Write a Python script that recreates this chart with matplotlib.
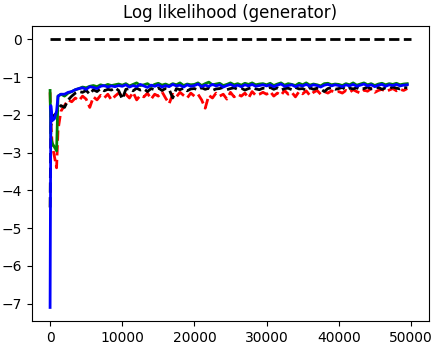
import numpy as np
import matplotlib
matplotlib.use("Agg")
import matplotlib.pyplot as plt

# iteration grid: fine at the start, then every 500 steps
iters = [0, 100, 300, 600, 900, 1100, 1500] + list(range(2000, 50000, 500))

blue = [-7.1, -1.75, -2.15, -2.1, -1.9, -1.5, -1.45,
        -1.45, -1.4, -1.38, -1.33, -1.3, -1.28, -1.32, -1.25, -1.27, -1.3, -1.24, -1.22, -1.26, -1.23, -1.25, -1.22,
        -1.24, -1.2, -1.26, -1.22, -1.25, -1.19, -1.23, -1.27, -1.21, -1.24, -1.2, -1.26, -1.22, -1.25, -1.19, -1.23, -1.21, -1.26, -1.2, -1.24,
        -1.22, -1.18, -1.25, -1.21, -1.24, -1.19, -1.23, -1.2, -1.26, -1.22, -1.19, -1.24, -1.21, -1.25, -1.2, -1.23, -1.19, -1.24, -1.22, -1.2,
        -1.23, -1.2, -1.25, -1.21, -1.18, -1.24, -1.22, -1.2, -1.25, -1.21, -1.23, -1.19, -1.24, -1.2, -1.22, -1.26, -1.21, -1.19, -1.23, -1.2,
        -1.22, -1.25, -1.2, -1.23, -1.19, -1.24, -1.21, -1.18, -1.23, -1.2, -1.25, -1.21, -1.19, -1.24, -1.2, -1.22, -1.19, -1.23, -1.21, -1.2]

green = [-1.35, -2.6, -2.75, -2.85, -2.95, -1.5, -1.45,
         -1.5, -1.42, -1.38, -1.33, -1.3, -1.26, -1.28, -1.24, -1.22, -1.25, -1.2, -1.23, -1.19, -1.22, -1.2, -1.18,
         -1.21, -1.17, -1.23, -1.19, -1.15, -1.22, -1.2, -1.17, -1.24, -1.19, -1.16, -1.21, -1.18, -1.22, -1.17, -1.2, -1.15, -1.22, -1.18, -1.2,
         -1.19, -1.15, -1.22, -1.17, -1.13, -1.2, -1.18, -1.16, -1.22, -1.19, -1.15, -1.2, -1.17, -1.21, -1.16, -1.19, -1.15, -1.2, -1.18, -1.17,
         -1.2, -1.16, -1.22, -1.18, -1.15, -1.21, -1.17, -1.19, -1.22, -1.16, -1.2, -1.15, -1.21, -1.18, -1.2, -1.23, -1.17, -1.16, -1.2, -1.18,
         -1.19, -1.22, -1.17, -1.2, -1.15, -1.21, -1.18, -1.15, -1.2, -1.17, -1.22, -1.18, -1.16, -1.2, -1.17, -1.19, -1.16, -1.2, -1.18, -1.17]

black = [-4.45, -2.3, -2.1, -2.0, -1.95, -1.85, -1.75,
         -1.8, -1.6, -1.5, -1.42, -1.38, -1.4, -1.35, -1.45, -1.33, -1.38, -1.3, -1.36, -1.32, -1.34, -1.28, -1.35,
         -1.58, -1.32, -1.3, -1.36, -1.29, -1.34, -1.31, -1.38, -1.3, -1.33, -1.28, -1.35, -1.3, -1.32, -1.55, -1.3, -1.33, -1.29, -1.36, -1.31,
         -1.3, -1.34, -1.28, -1.32, -1.29, -1.35, -1.31, -1.3, -1.27, -1.33, -1.3, -1.28, -1.32, -1.29, -1.34, -1.3, -1.27, -1.31, -1.33, -1.29,
         -1.3, -1.27, -1.32, -1.28, -1.34, -1.3, -1.29, -1.33, -1.27, -1.31, -1.3, -1.35, -1.28, -1.32, -1.29, -1.31, -1.38, -1.3, -1.28, -1.32,
         -1.3, -1.27, -1.33, -1.29, -1.31, -1.28, -1.32, -1.3, -1.26, -1.31, -1.29, -1.27, -1.32, -1.28, -1.3, -1.26, -1.29, -1.31, -1.27, -1.28]

red = [-1.4, -2.2, -2.8, -3.1, -3.4, -2.4, -1.9,
       -1.75, -1.6, -1.65, -1.55, -1.62, -1.5, -1.58, -1.8, -1.52, -1.6, -1.48, -1.55, -1.45, -1.6, -1.5, -1.42,
       -1.5, -1.45, -1.55, -1.4, -1.6, -1.48, -1.52, -1.42, -1.58, -1.45, -1.5, -1.38, -1.55, -1.7, -1.45, -1.52, -1.4, -1.48, -1.55, -1.42,
       -1.5, -1.45, -1.6, -1.82, -1.48, -1.55, -1.42, -1.5, -1.45, -1.58, -1.4, -1.52, -1.45, -1.5, -1.42, -1.55, -1.38, -1.48, -1.45, -1.4,
       -1.45, -1.38, -1.5, -1.42, -1.48, -1.35, -1.45, -1.4, -1.52, -1.38, -1.44, -1.36, -1.48, -1.4, -1.35, -1.45, -1.38, -1.42, -1.36, -1.4,
       -1.38, -1.42, -1.35, -1.4, -1.33, -1.38, -1.42, -1.34, -1.37, -1.3, -1.4, -1.35, -1.32, -1.38, -1.34, -1.3, -1.36, -1.32, -1.35, -1.3]

reference = [0.0, 0.0]
reference_x = [0, 50000]

fig, ax = plt.subplots(figsize=(4.39, 3.48), dpi=100)
fig.subplots_adjust(left=0.073, right=0.977, top=0.925, bottom=0.078)

ax.plot(reference_x, reference, 'k--', lw=2)
ax.plot(iters, red, 'r--', lw=2)
ax.plot(iters, black, 'k--', lw=2)
ax.plot(iters, green, color='green', lw=2)
ax.plot(iters, blue, 'b-', lw=2)

ax.set_xlim(-2500, 52500)
ax.set_ylim(-7.455, 0.355)
ax.set_title("Log likelihood (generator)")

fig.savefig("out.png", dpi=100)
